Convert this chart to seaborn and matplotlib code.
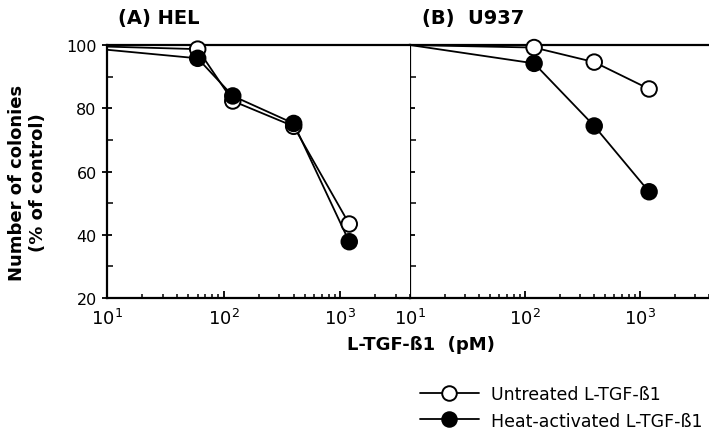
import pandas as pd
import seaborn as sns
import matplotlib.pyplot as plt
from matplotlib.lines import Line2D
from matplotlib.ticker import MultipleLocator, LogLocator, LogFormatterSciNotation, NullFormatter

# Values (first point at 10 pM is only the line start)
hel_conc = [10, 60, 120, 400, 1200]
hel_untreated = [99.5, 98.7, 82.3, 74.3, 43.4]
hel_heat = [98.5, 95.8, 83.9, 75.2, 37.8]

u937_conc = [10, 120, 400, 1200]
u937_untreated = [100, 99.2, 94.6, 86.1]
u937_heat = [100, 94.2, 74.4, 53.6]

treatments = ["Untreated L-TGF-ß1", "Heat-activated L-TGF-ß1"]
panel_titles = ["(A) HEL", "(B)  U937"]


def make_frame(conc, untreated, heat):
    rows = []
    for c, u, h in zip(conc, untreated, heat):
        rows.append({"conc": c, "pct": u, "treatment": treatments[0]})
        rows.append({"conc": c, "pct": h, "treatment": treatments[1]})
    return pd.DataFrame(rows)


frames = [make_frame(hel_conc, hel_untreated, hel_heat),
          make_frame(u937_conc, u937_untreated, u937_heat)]

sns.set_style("ticks")
plt.rcParams['font.family'] = ['DejaVu Sans']
plt.rcParams['mathtext.fontset'] = 'dejavusans'
for key in ['text.color', 'axes.labelcolor', 'xtick.color', 'ytick.color', 'axes.edgecolor']:
    plt.rcParams[key] = 'black'

fig = plt.figure(figsize=(7.09, 4.35), dpi=100)
ax_a = fig.add_axes([0.151, 0.3126, 0.4275, 0.5816])
ax_b = fig.add_axes([0.5783, 0.3126, 0.4220, 0.5816])

face = {treatments[0]: "white", treatments[1]: "black"}

for ax, df in zip([ax_a, ax_b], frames):
    sns.lineplot(data=df, x="conc", y="pct", hue="treatment",
                 palette=["black", "black"], legend=False, ax=ax,
                 linewidth=1.3, clip_on=False, zorder=2)
    sns.scatterplot(data=df[df["conc"] > 10], x="conc", y="pct", hue="treatment",
                    palette=face, edgecolor="black", linewidth=1.4, s=125,
                    legend=False, ax=ax, zorder=3, clip_on=False)
    ax.set_xscale("log")
    ax.set_xlim(10, 4000)
    ax.set_ylim(20, 100)
    ax.xaxis.set_major_locator(LogLocator(base=10, numticks=10))
    ax.xaxis.set_major_formatter(LogFormatterSciNotation())
    ax.xaxis.set_minor_locator(LogLocator(base=10, subs=range(2, 10), numticks=20))
    ax.xaxis.set_minor_formatter(NullFormatter())
    ax.yaxis.set_major_locator(MultipleLocator(20))
    ax.yaxis.set_minor_locator(MultipleLocator(10))
    ax.tick_params(axis="x", which="major", direction="in", length=5, width=1.3,
                   labelsize=13, pad=7)
    ax.tick_params(axis="x", which="minor", direction="in", length=3, width=1.1)
    ax.tick_params(axis="y", which="major", direction="inout", length=7, width=1.3,
                   labelsize=11.5, pad=4)
    ax.tick_params(axis="y", which="minor", direction="in", length=4, width=1.1)
    for side in ["top", "bottom", "left"]:
        ax.spines[side].set_linewidth(1.6)
    ax.spines["right"].set_visible(False)
    ax.set_xlabel("")
    ax.set_ylabel("")

ax_a.set_title(panel_titles[0], loc="left", x=0.036, fontsize=14,
               fontweight="bold", pad=16)
ax_b.set_title(panel_titles[1], loc="left", x=0.04, fontsize=14,
               fontweight="bold", pad=16)
ax_b.tick_params(axis="y", which="both", labelleft=False)
ax_b.set_zorder(ax_a.get_zorder() - 1)

ax_a.set_ylabel("Number of colonies\n(% of control)", fontsize=13,
                fontweight="bold", linespacing=1.2)
ax_a.yaxis.set_label_coords(-0.198, 0.46)
fig.text(0.594, 0.207, "L-TGF-ß1  (pM)", ha="center", va="center",
         fontsize=13, fontweight="bold")

handles = [Line2D([], [], color="black", lw=1.3, marker="o", markersize=10.5,
                  markerfacecolor=face[t], markeredgecolor="black",
                  markeredgewidth=1.4) for t in treatments]
fig.legend(handles, treatments, loc="upper left", bbox_to_anchor=(0.592, 0.113),
           frameon=False, fontsize=12.5, handlelength=3.4, handletextpad=0.7,
           labelspacing=0.5, borderaxespad=0, borderpad=0)

fig.savefig("out.png", dpi=100)
